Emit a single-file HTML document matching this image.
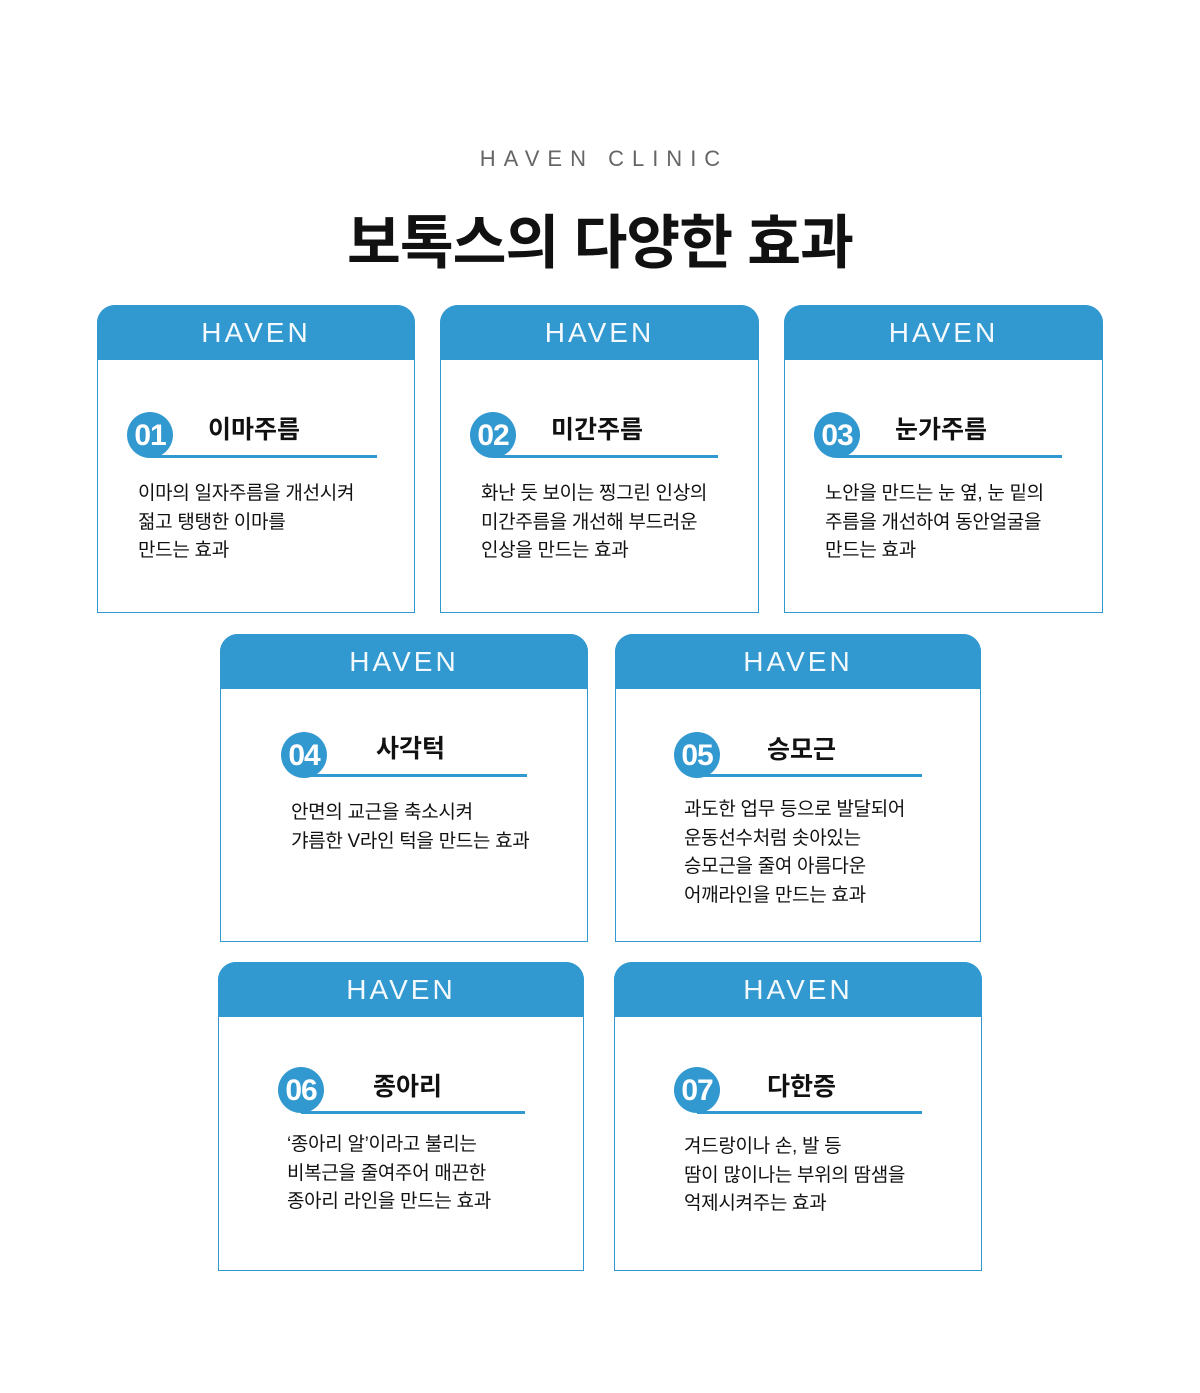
<!DOCTYPE html>
<html><head><meta charset="utf-8"><style>
*{margin:0;padding:0;box-sizing:border-box}
body{width:1200px;height:1393px;background:#fff;position:relative;font-family:"Liberation Sans","Noto Sans CJK KR",sans-serif;overflow:hidden}
.sub{position:absolute;top:146px;left:0;width:1200px;text-align:center;font-size:22px;letter-spacing:8px;color:#666;padding-left:8px}
.h1{position:absolute;top:195px;left:0;width:1200px;text-align:center;font-size:58.5px;font-weight:bold;color:#111;letter-spacing:-1px}
.card{position:absolute;border:1px solid #3198d0;border-radius:18px 18px 0 0;background:#fff}
.hd{position:absolute;left:-1px;right:-1px;top:-1px;height:55px;background:#3198d0;border-radius:18px 18px 0 0;color:#f4f9fd;text-align:center;font-size:28px;line-height:56px;letter-spacing:3px;font-weight:300}
.c{position:absolute;width:46px;height:46px;border-radius:50%;background:#3198d0;color:#fff;font-weight:bold;font-size:30px;line-height:47px;text-align:center;letter-spacing:-1px}
.ln{position:absolute;height:3px;background:#3198d0}
.t{position:absolute;font-size:25px;font-weight:bold;color:#111;line-height:30px}
.d{position:absolute;font-size:19px;color:#111;line-height:28.5px;letter-spacing:-0.3px}
</style></head><body>
<div class="sub">HAVEN CLINIC</div>
<div class="h1">보톡스의 다양한 효과</div>

<div class="card" style="left:97px;top:305px;width:318px;height:308px"><div class="hd">HAVEN</div></div>
<div class="card" style="left:440px;top:305px;width:319px;height:308px"><div class="hd">HAVEN</div></div>
<div class="card" style="left:784px;top:305px;width:319px;height:308px"><div class="hd">HAVEN</div></div>
<div class="card" style="left:220px;top:634px;width:368px;height:308px"><div class="hd">HAVEN</div></div>
<div class="card" style="left:615px;top:634px;width:366px;height:308px"><div class="hd">HAVEN</div></div>
<div class="card" style="left:218px;top:962px;width:366px;height:309px"><div class="hd">HAVEN</div></div>
<div class="card" style="left:614px;top:962px;width:368px;height:309px"><div class="hd">HAVEN</div></div>

<div class="ln" style="left:150px;top:455px;width:227px"></div>
<div class="c" style="left:127px;top:412px">01</div>
<div class="t" style="left:208px;top:415px">이마주름</div>
<div class="d" style="left:138px;top:480px">이마의 일자주름을 개선시켜<br>젊고 탱탱한 이마를<br>만드는 효과</div>

<div class="ln" style="left:493px;top:455px;width:225px"></div>
<div class="c" style="left:470px;top:412px">02</div>
<div class="t" style="left:551px;top:415px">미간주름</div>
<div class="d" style="left:481px;top:480px">화난 듯 보이는 찡그린 인상의<br>미간주름을 개선해 부드러운<br>인상을 만드는 효과</div>

<div class="ln" style="left:837px;top:455px;width:225px"></div>
<div class="c" style="left:814px;top:412px">03</div>
<div class="t" style="left:895px;top:415px">눈가주름</div>
<div class="d" style="left:825px;top:480px">노안을 만드는 눈 옆, 눈 밑의<br>주름을 개선하여 동안얼굴을<br>만드는 효과</div>

<div class="ln" style="left:304px;top:774px;width:223px"></div>
<div class="c" style="left:281px;top:732px">04</div>
<div class="t" style="left:376px;top:734px">사각턱</div>
<div class="d" style="left:291px;top:799px">안면의 교근을 축소시켜<br>갸름한 V라인 턱을 만드는 효과</div>

<div class="ln" style="left:697px;top:774px;width:225px"></div>
<div class="c" style="left:674px;top:732px">05</div>
<div class="t" style="left:767px;top:735px">승모근</div>
<div class="d" style="left:684px;top:796px">과도한 업무 등으로 발달되어<br>운동선수처럼 솟아있는<br>승모근을 줄여 아름다운<br>어깨라인을 만드는 효과</div>

<div class="ln" style="left:301px;top:1111px;width:224px"></div>
<div class="c" style="left:278px;top:1067px">06</div>
<div class="t" style="left:373px;top:1072px">종아리</div>
<div class="d" style="left:287px;top:1131px">‘종아리 알’이라고 불리는<br>비복근을 줄여주어 매끈한<br>종아리 라인을 만드는 효과</div>

<div class="ln" style="left:697px;top:1111px;width:225px"></div>
<div class="c" style="left:674px;top:1067px">07</div>
<div class="t" style="left:767px;top:1072px">다한증</div>
<div class="d" style="left:684px;top:1133px">겨드랑이나 손, 발 등<br>땀이 많이나는 부위의 땀샘을<br>억제시켜주는 효과</div>
</body></html>
